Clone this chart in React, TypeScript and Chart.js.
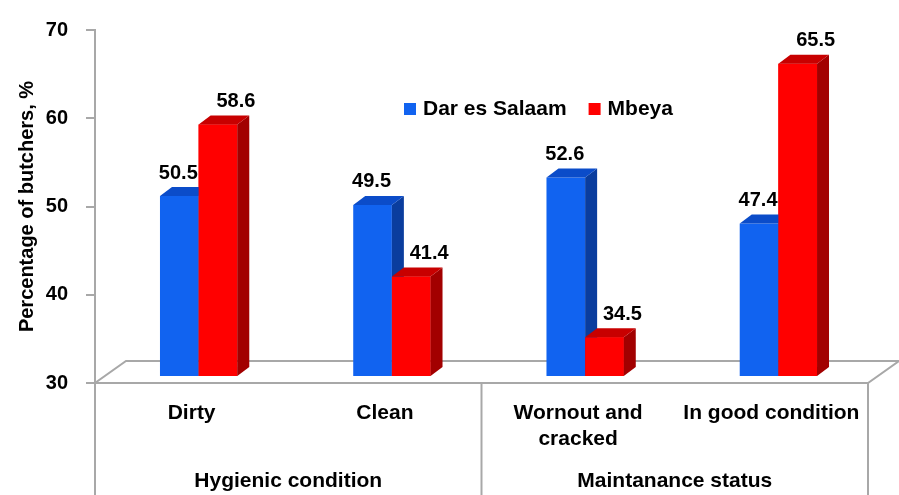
import { useEffect, useRef } from "react";
import { Chart, registerables } from "chart.js";

Chart.register(...registerables);

// ---- data ----
const categories: string[][] = [["Dirty"], ["Clean"], ["Wornout and", "cracked"], ["In good condition"]];
const groups: string[] = ["Hygienic condition", "Maintanance status"];
const seriesNames: string[] = ["Dar es Salaam", "Mbeya"];
const darEsSalaam: number[] = [50.5, 49.5, 52.6, 47.4];
const mbeya: number[] = [58.6, 41.4, 34.5, 65.5];
const yMin = 30;
const yMax = 70;
const yStep = 10;
const yTitle = "Percentage of butchers, %";

// ---- style ----
const FONT = "'Liberation Sans', Arial, Helvetica, sans-serif";
const BLUE = { front: "#1163f0", top: "#0b4cc9", side: "#0a3d9e" };
const RED = { front: "#ff0000", top: "#c80000", side: "#a20000" };
const SERIES_STYLE = [BLUE, RED];
const LABEL_DX = [-1, 18];
const AXIS_GRAY = "#a8a8a8";

const BAR_SHIFT_X = 7;
const BAR_SHIFT_Y = -6;
const DEPTH_X = 12;
const DEPTH_Y = -9;
const FLOOR_DX = 31;
const FLOOR_DY = -22;

function drawFaces(ctx: CanvasRenderingContext2D, bar: any, st: { top: string; side: string }) {
  const { x, y, base, width } = bar.getProps(["x", "y", "base", "width"], true);
  const x0 = x - width / 2;
  const x1 = x + width / 2;
  ctx.beginPath();
  ctx.moveTo(x1, y);
  ctx.lineTo(x1 + DEPTH_X, y + DEPTH_Y);
  ctx.lineTo(x1 + DEPTH_X, base + DEPTH_Y);
  ctx.lineTo(x1, base);
  ctx.closePath();
  ctx.fillStyle = st.side;
  ctx.fill();
  ctx.beginPath();
  ctx.moveTo(x0, y);
  ctx.lineTo(x1, y);
  ctx.lineTo(x1 + DEPTH_X, y + DEPTH_Y);
  ctx.lineTo(x0 + DEPTH_X, y + DEPTH_Y);
  ctx.closePath();
  ctx.fillStyle = st.top;
  ctx.fill();
}

const threeD = {
  id: "threeD",
  beforeDatasetsDraw(chart: any) {
    const { ctx, chartArea } = chart;
    const { left, right, bottom } = chartArea;
    ctx.save();
    ctx.beginPath();
    ctx.moveTo(left, bottom);
    ctx.lineTo(right, bottom);
    ctx.lineTo(right + FLOOR_DX, bottom + FLOOR_DY);
    ctx.lineTo(left + FLOOR_DX, bottom + FLOOR_DY);
    ctx.closePath();
    ctx.fillStyle = "#ffffff";
    ctx.fill();
    ctx.strokeStyle = AXIS_GRAY;
    ctx.lineWidth = 2;
    ctx.stroke();
    ctx.restore();
    ctx.save();
    ctx.translate(BAR_SHIFT_X, BAR_SHIFT_Y);
  },
  afterDatasetsDraw(chart: any) {
    const { ctx } = chart;
    const n = chart.data.labels.length;
    const metas = chart.data.datasets.map((_: any, i: number) => chart.getDatasetMeta(i));
    for (let j = 0; j < n; j++) {
      metas.forEach((meta: any, i: number) => {
        const bar = meta.data[j];
        if (!bar) return;
        if (i > 0) bar.draw(ctx, chart.chartArea);
        drawFaces(ctx, bar, SERIES_STYLE[i]);
      });
    }
    ctx.restore();
    // value labels
    ctx.save();
    ctx.font = `bold 20px ${FONT}`;
    ctx.fillStyle = "#000";
    ctx.textAlign = "center";
    ctx.textBaseline = "middle";
    chart.data.datasets.forEach((ds: any, i: number) => {
      const meta = chart.getDatasetMeta(i);
      meta.data.forEach((bar: any, j: number) => {
        const { x, y } = bar.getProps(["x", "y"], true);
        ctx.fillText(ds.data[j].toFixed(1), x + BAR_SHIFT_X + LABEL_DX[i], y + BAR_SHIFT_Y - 23);
      });
    });
    ctx.restore();
  },
  afterDraw(chart: any) {
    const { ctx, chartArea, height } = chart;
    const xs = chart.scales.x;
    const { left, right, bottom, top } = chartArea;
    const mid = (xs.getPixelForValue(1) + xs.getPixelForValue(2)) / 2;
    ctx.save();
    ctx.strokeStyle = AXIS_GRAY;
    ctx.lineWidth = 2;
    [left, mid, right].forEach((px) => {
      ctx.beginPath();
      ctx.moveTo(px, bottom);
      ctx.lineTo(px, height);
      ctx.stroke();
    });
    ctx.restore();

    // legend
    ctx.save();
    ctx.font = `bold 21px ${FONT}`;
    ctx.textBaseline = "middle";
    ctx.textAlign = "left";
    let lx = left + 309;
    const ly = top + 79;
    chart.data.datasets.forEach((ds: any, i: number) => {
      ctx.fillStyle = SERIES_STYLE[i].front;
      ctx.fillRect(lx, ly - 6, 12, 12);
      lx += 19;
      ctx.fillStyle = "#000";
      ctx.fillText(ds.label, lx, ly);
      lx += ctx.measureText(ds.label).width + 22;
    });
    ctx.restore();
  },
};

export default function App() {
  const ref = useRef<HTMLCanvasElement | null>(null);

  useEffect(() => {
    document.body.style.margin = "0";
    const canvas = ref.current;
    if (!canvas) return;
    const chart = new Chart(canvas, {
      type: "bar",
      data: {
        labels: categories as any,
        datasets: [
          {
            label: seriesNames[0],
            data: darEsSalaam,
            backgroundColor: BLUE.front,
            borderWidth: 0,
            base: yMin,
            categoryPercentage: 0.4,
            barPercentage: 1.0,
          } as any,
          {
            label: seriesNames[1],
            data: mbeya,
            backgroundColor: RED.front,
            borderWidth: 0,
            base: yMin,
            categoryPercentage: 0.4,
            barPercentage: 1.0,
          } as any,
        ],
      },
      options: {
        animation: false,
        responsive: true,
        maintainAspectRatio: false,
        layout: { padding: { top: 23, right: 31, left: 0, bottom: 0 } },
        plugins: {
          legend: { display: false },
          tooltip: { enabled: false },
        },
        scales: {
          y: {
            min: yMin,
            max: yMax,
            ticks: {
              stepSize: yStep,
              color: "#000",
              padding: 18,
              font: { family: FONT, size: 20, weight: "bold" },
            },
            grid: {
              display: true,
              drawOnChartArea: false,
              drawTicks: true,
              tickLength: 9,
              color: AXIS_GRAY,
              lineWidth: 2,
            },
            border: { display: true, color: AXIS_GRAY, width: 2 },
            title: {
              display: true,
              text: yTitle,
              color: "#000",
              font: { family: FONT, size: 20, weight: "bold" },
              padding: { top: 15, bottom: 0 },
            },
            afterFit: (s: any) => {
              s.width = 95;
            },
          },
          x: {
            type: "category",
            position: "bottom",
            weight: 0,
            offset: true,
            grid: { display: false, drawTicks: false },
            border: { display: false },
            ticks: {
              color: "#000",
              padding: 18,
              maxRotation: 0,
              autoSkip: false,
              font: { family: FONT, size: 21, weight: "bold" },
            },
            afterFit: (s: any) => {
              s.height = 70;
            },
          },
          x2: {
            type: "category",
            position: "bottom",
            weight: 1,
            labels: groups,
            offset: true,
            grid: { display: false, drawTicks: false },
            border: { display: false },
            ticks: {
              color: "#000",
              padding: 16,
              maxRotation: 0,
              autoSkip: false,
              font: { family: FONT, size: 21, weight: "bold" },
            },
            afterFit: (s: any) => {
              s.height = 42;
            },
          },
        } as any,
      },
      plugins: [threeD],
    });
    return () => chart.destroy();
  }, []);

  return (
    <div style={{ position: "absolute", left: 0, top: 0, width: 899, height: 495, background: "#fff" }}>
      <canvas ref={ref} />
    </div>
  );
}
